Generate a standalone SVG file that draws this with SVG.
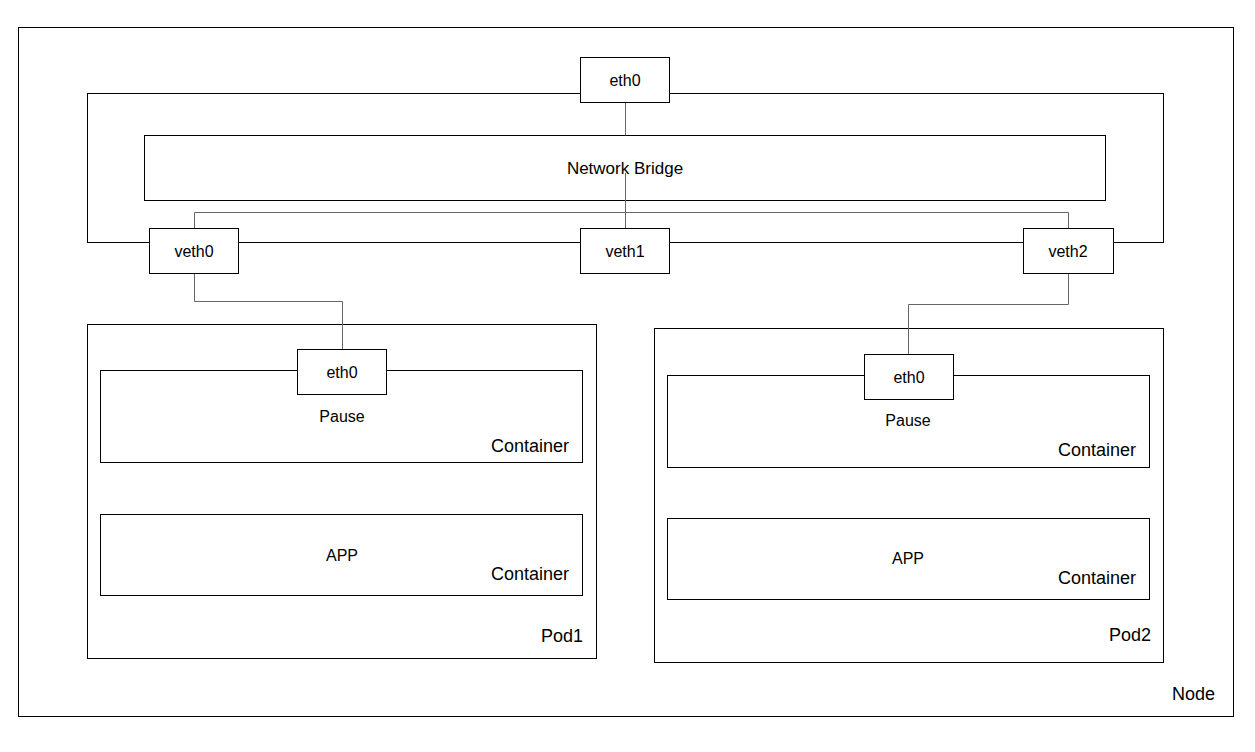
<svg xmlns="http://www.w3.org/2000/svg" width="1255" height="752" viewBox="0 0 1255 752">
<style>
.box{fill:#fff;stroke:#000;stroke-width:1}
.frame{fill:none;stroke:#000;stroke-width:1}
.link{fill:none;stroke:#666;stroke-width:1}
text{font-family:"Liberation Sans",Arial,sans-serif;fill:#000}
.s{font-size:16px;text-anchor:middle}
.l{font-size:18px;text-anchor:end}
</style>
<rect width="1255" height="752" fill="#fff"/>
<g id="node">
<rect class="frame" x="18.5" y="27.5" width="1215" height="689"/>
<text class="l" x="1215" y="700">Node</text>
</g>
<g id="host-net">
<rect class="frame" x="87.5" y="93.5" width="1076" height="149"/>
</g>
<g id="bridge">
<rect class="box" x="144.5" y="135.5" width="961" height="65"/>
<text class="s" x="625" y="174" style="font-size:17px">Network Bridge</text>
</g>
<g id="pod1">
<rect class="frame" x="87.5" y="324.5" width="509" height="334"/>
<text class="l" x="583" y="642">Pod1</text>
</g>
<g id="pod1-pause">
<rect class="box" x="100.5" y="370.5" width="482" height="92"/>
<text class="s" x="342" y="422">Pause</text>
<text class="l" x="569" y="452">Container</text>
</g>
<g id="pod1-app">
<rect class="box" x="100.5" y="514.5" width="482" height="81"/>
<text class="s" x="342" y="561">APP</text>
<text class="l" x="569" y="580">Container</text>
</g>
<g id="pod2">
<rect class="frame" x="654.5" y="328.5" width="509" height="334"/>
<text class="l" x="1151" y="641">Pod2</text>
</g>
<g id="pod2-pause">
<rect class="box" x="667.5" y="375.5" width="482" height="92"/>
<text class="s" x="908" y="426">Pause</text>
<text class="l" x="1136" y="456">Container</text>
</g>
<g id="pod2-app">
<rect class="box" x="667.5" y="518.5" width="482" height="81"/>
<text class="s" x="908" y="564">APP</text>
<text class="l" x="1136" y="584">Container</text>
</g>
<g id="connectors">
<path class="link" d="M625.5 102V135.5"/>
<path class="link" d="M625.5 173V228"/>
<path class="link" d="M194.5 228V212.5H1068.5V228"/>
<path class="link" d="M194.5 273V301.5H342.5V349"/>
<path class="link" d="M1068.5 273V304.5H908.5V354"/>
</g>
<g id="eth0-host">
<rect class="box" x="580.5" y="57.5" width="89" height="45"/>
<text class="s" x="625" y="86">eth0</text>
</g>
<g id="veth0">
<rect class="box" x="149.5" y="228.5" width="89" height="45"/>
<text class="s" x="194" y="257">veth0</text>
</g>
<g id="veth1">
<rect class="box" x="580.5" y="228.5" width="89" height="45"/>
<text class="s" x="625" y="257">veth1</text>
</g>
<g id="veth2">
<rect class="box" x="1023.5" y="228.5" width="90" height="45"/>
<text class="s" x="1068" y="257">veth2</text>
</g>
<g id="pod1-eth0">
<rect class="box" x="297.5" y="349.5" width="89" height="45"/>
<text class="s" x="342" y="378">eth0</text>
</g>
<g id="pod2-eth0">
<rect class="box" x="864.5" y="354.5" width="89" height="45"/>
<text class="s" x="909" y="383">eth0</text>
</g>
</svg>
